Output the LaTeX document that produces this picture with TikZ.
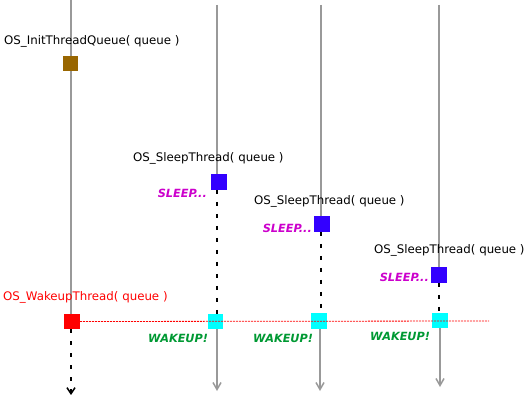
\documentclass[tikz,border=0pt]{standalone}
\usepackage{fontspec}
\setmainfont{DejaVu Sans}
\usetikzlibrary{arrows.meta}
\definecolor{lifegray}{HTML}{999999}
\definecolor{initbrown}{HTML}{996600}
\definecolor{sleepblue}{HTML}{3300FF}
\definecolor{wakecyan}{HTML}{00FFFF}
\definecolor{wakered}{HTML}{FF0000}
\definecolor{sleeppink}{HTML}{CC00CC}
\definecolor{wakegreen}{HTML}{009933}

\begin{document}
\begin{tikzpicture}[x=1pt,y=-1pt,
  box/.style={minimum size=15.5pt,inner sep=0pt},
  life/.style={draw=lifegray,line width=2pt},
  lifearrow/.style={life,-{Straight Barb[length=7pt,width=8pt,line width=1.5pt]}},
  waiting/.style={draw=black,line width=2pt,dash pattern=on 4pt off 8pt},
  fn/.style={font=\fontsize{11.8}{13}\selectfont,anchor=west,inner sep=0pt},
  tag/.style={font=\fontsize{11.3}{13}\selectfont\bfseries\itshape,inner sep=0pt}]
\useasboundingbox (0,0) rectangle (532,395);
\coordinate (top0) at (71,0);
\coordinate (topA) at (217,5);
\coordinate (topB) at (321,5);
\coordinate (topC) at (439,5);
\node[box,fill=initbrown] (init) at (70.5,63.5) {};
\node[box,fill=sleepblue] (sleepA) at (219,182) {};
\node[box,fill=sleepblue] (sleepB) at (322,224) {};
\node[box,fill=sleepblue] (sleepC) at (439,275) {};
\node[box,fill=wakered] (wake) at (72,321.5) {};
\node[box,fill=wakecyan] (wakeA) at (215.5,321.5) {};
\node[box,fill=wakecyan] (wakeB) at (319,321) {};
\node[box,fill=wakecyan] (wakeC) at (440,320.5) {};
\coordinate (end0) at (71,395);
\coordinate (endA) at (217,391);
\coordinate (endB) at (320,391);
\coordinate (endC) at (440,387);
\coordinate (redend) at (489,321);
\draw[life] (top0) -- (top0 |- init.north);
\draw[life] (top0 |- init.south) -- (top0 |- wake.north);
\draw[life] (topA) -- (topA |- sleepA.north);
\draw[life] (topB) -- (topB |- sleepB.north);
\draw[life] (topC) -- (topC |- sleepC.north);
\draw[waiting] (topA |- sleepA.south) -- (topA |- wakeA.north);
\draw[waiting] (topB |- sleepB.south) -- (topB |- wakeB.north);
\draw[waiting] (topC |- sleepC.south) -- (topC |- wakeC.north);
\draw[waiting,-{Straight Barb[length=6pt,width=8pt,line width=1.5pt]}] (end0 |- wake.south) -- (end0);
\draw[lifearrow] (endA |- wakeA.south) -- (endA);
\draw[lifearrow] (endB |- wakeB.south) -- (endB);
\draw[lifearrow] (endC |- wakeC.south) -- (endC);
\draw[wakered,line width=0.8pt,dash pattern=on 2pt off 1pt] (wake.east) -- (redend);
\node[fn] (initlbl) at (4,41) {OS\_InitThreadQueue( queue )};
\node[fn] (sleeplblA) at (133,158) {OS\_SleepThread( queue )};
\node[fn] (sleeplblB) at (254,201) {OS\_SleepThread( queue )};
\node[fn] (sleeplblC) at (374,250) {OS\_SleepThread( queue )};
\node[fn,text=wakered] (wakelbl) at (3,297) {OS\_WakeupThread( queue )};
\node[tag,text=sleeppink,anchor=east] (sleeptagA) at (207,193) {SLEEP...};
\node[tag,text=sleeppink,anchor=east] (sleeptagB) at (312,228) {SLEEP...};
\node[tag,text=sleeppink,anchor=east] (sleeptagC) at (429,277) {SLEEP...};
\node[tag,text=wakegreen,anchor=west] (waketagA) at (148,338) {WAKEUP!};
\node[tag,text=wakegreen,anchor=west] (waketagB) at (253,338) {WAKEUP!};
\node[tag,text=wakegreen,anchor=west] (waketagC) at (370,336) {WAKEUP!};
\end{tikzpicture}
\end{document}
